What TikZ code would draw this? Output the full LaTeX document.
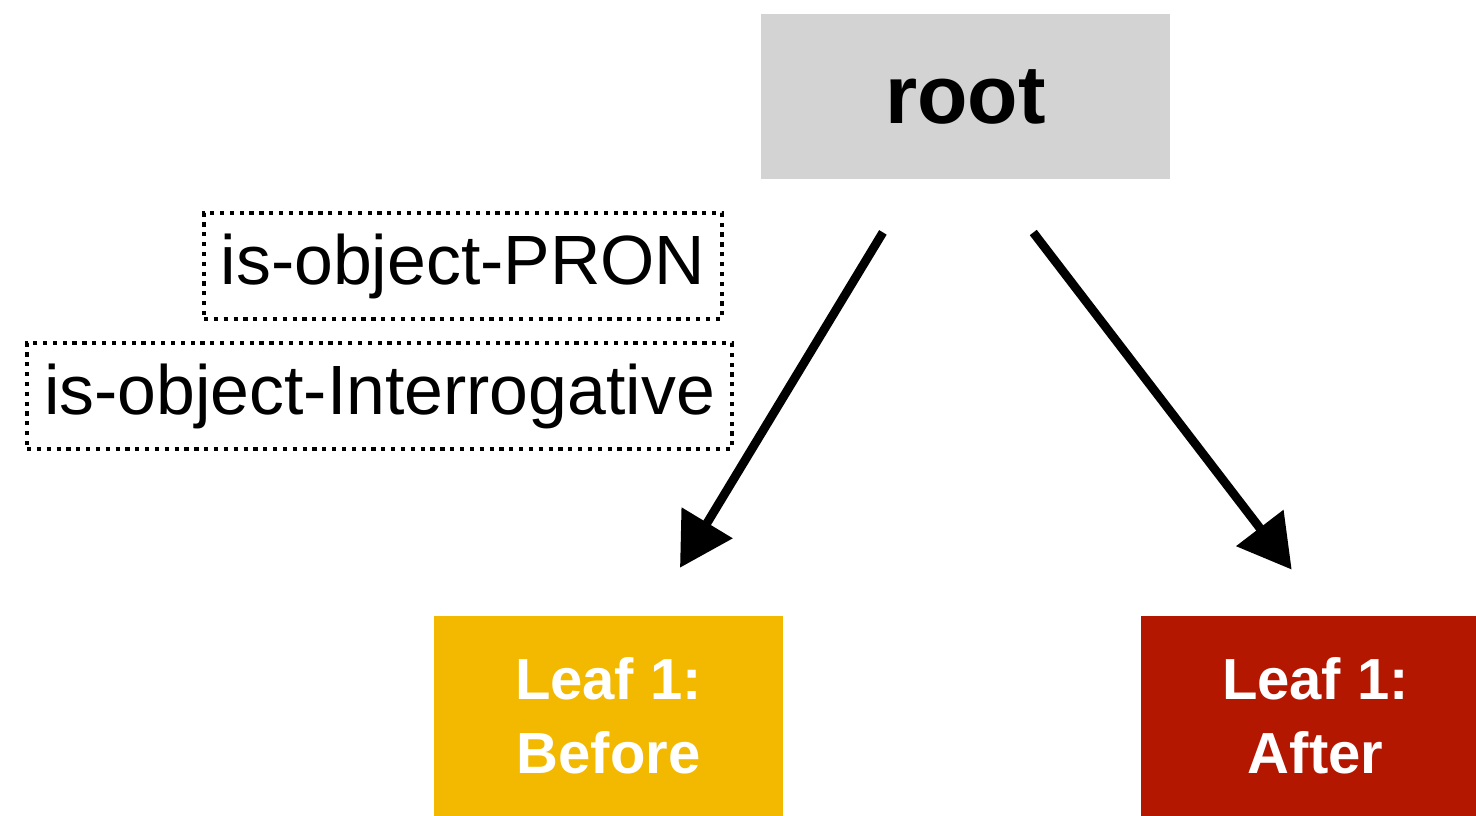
\documentclass[tikz,border=0pt]{standalone}
\usepackage{fontspec}
\setmainfont{Liberation Sans}
\usepackage{xcolor}
\usepackage{tikz}
\usetikzlibrary{arrows.meta,calc}

\definecolor{rootgray}{HTML}{D3D3D3}
\definecolor{leafyellow}{HTML}{F2B900}
\definecolor{leafred}{HTML}{B41700}

\begin{document}
\begin{tikzpicture}[
  box/.style={align=center, inner sep=0pt},
  rootbox/.style={box, fill=rootgray, minimum width=8.18cm, minimum height=3.30cm,
                  font=\fontsize{47}{52}\selectfont\bfseries},
  leaf/.style={box, minimum width=6.98cm, minimum height=4.0cm, text=white,
               font=\fontsize{33}{42}\selectfont\bfseries},
  cond/.style={box, draw, line width=2.3pt, dash pattern=on 2.4pt off 3.2pt,
               minimum height=2.12cm, font=\fontsize{39.7}{44}\selectfont},
  arr/.style={line width=5pt, -{Triangle[length=1.05cm, width=1.15cm]}},
]
\useasboundingbox (0,0) rectangle (29.52,-16.32);
% ---- tree nodes -------------------------------------------------------
\node[rootbox] (root) at (19.31,-1.93) {root};
\node[leaf, fill=leafyellow] (before) at (12.17,-14.32) {Leaf 1:\\Before};
\node[leaf, fill=leafred] (after) at (26.31,-14.32) {Leaf 1:\\After};
% ---- split conditions -------------------------------------------------
\node[cond, minimum width=10.36cm] (pron) at (9.26,-5.32) {is-object-PRON};
\node[cond, minimum width=14.10cm] (interr) at (7.59,-7.92)
  {is-object-Interrogative};
% ---- edges ------------------------------------------------------------
\draw[arr, shorten <=1.24cm, shorten >=1.12cm]
  ($(root.south)+(-1.01,0)$) -- ($(before.north)+(0.85,0)$);
\draw[arr, shorten <=1.34cm, shorten >=1.16cm]
  ($(root.south)+(0.54,0)$) -- ($(after.north)+(0.23,0)$);
\end{tikzpicture}
\end{document}
